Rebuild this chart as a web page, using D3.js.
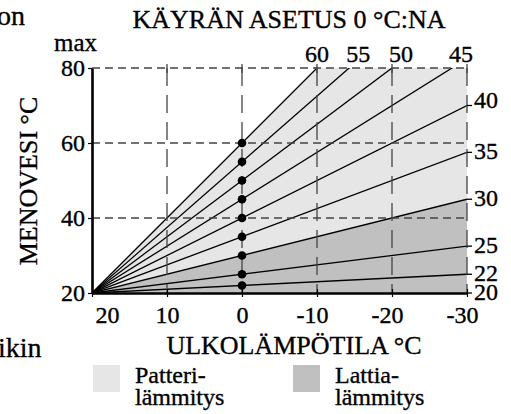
<!DOCTYPE html>
<html><head><meta charset="utf-8">
<script src="https://cdn.jsdelivr.net/npm/d3@7"></script>
<style>
html,body{margin:0;padding:0;background:#fff;}
svg{display:block;}
svg text{stroke:#000;stroke-width:0.35px;}
</style></head>
<body>
<svg id="c" width="511" height="414"></svg>
<script>
// curve settings: supply water temperature at 0 °C outdoor
const curveSettings = [22, 25, 30, 35, 40, 45, 50, 55, 60];
const xTickValues = [20, 10, 0, -10, -20, -30];
const yTickValues = [20, 40, 60, 80];
const topLabels = [60, 55, 50, 45];
const rightLabels = [40, 35, 30, 25, 22, 20];
const floorLimit = 30;   // boundary between floor heating and radiator heating
const radiatorMax = 60;

// pick first installed serif face, else Liberation Sans
const candidates = ["Liberation Serif", "Tinos", "Times New Roman", "Times", "Nimbus Roman", "Noto Serif", "DejaVu Serif", "FreeSerif"];
const cv = document.createElement("canvas").getContext("2d");
const probe = "KÄYRÄN ASETUS mmmWWiil 0123";
function w(font) { cv.font = "40px " + font; return cv.measureText(probe).width; }
const base1 = w("monospace"), base2 = w("sans-serif");
let found = null;
for (const c of candidates) {
  const a = w(`"${c}", monospace`), b = w(`"${c}", sans-serif`);
  if (Math.abs(a - base1) > 0.5 && Math.abs(b - base2) > 0.5) { found = c; break; }
}
const FONT = found ? `"${found}", serif` : `"Liberation Sans", Arial, sans-serif`;

const svg = d3.select("#c").style("font-family", FONT);
const x = d3.scaleLinear().domain([20, -30]).range([92, 467]);
const y = d3.scaleLinear().domain([20, 80]).range([293, 68]);
const [x0, x1] = x.domain();
const [y0, y1] = y.domain();
// straight line through (20,20) and (0,T)
const f = (T, t) => 20 + (T - 20) * (20 - t) / 20;

svg.append("defs").append("clipPath").attr("id", "plot")
  .append("rect").attr("x", x(x0)).attr("y", y(y1))
  .attr("width", x(x1) - x(x0)).attr("height", y(y0) - y(y1));

const plot = svg.append("g").attr("clip-path", "url(#plot)");
const ends = [x0, x1];
plot.append("path").datum(ends)
  .attr("fill", "#e6e6e6")
  .attr("d", d3.area().x(t => x(t)).y0(t => y(f(floorLimit, t))).y1(t => y(f(radiatorMax, t))));
plot.append("path").datum(ends)
  .attr("fill", "#c0c0c0")
  .attr("d", d3.area().x(t => x(t)).y0(y(y0)).y1(t => y(f(floorLimit, t))));

// grid
const grid = svg.append("g").attr("stroke", "#444").attr("stroke-width", 1.3).attr("fill", "none");
grid.selectAll("line.h").data(yTickValues.filter(v => v > y0)).join("line")
  .attr("x1", x(x0)).attr("x2", x(x1)).attr("y1", d => y(d)).attr("y2", d => y(d))
  .attr("stroke-dasharray", "8,5");
grid.selectAll("line.v").data(xTickValues.filter(v => v < x0)).join("line")
  .attr("x1", d => x(d)).attr("x2", d => x(d)).attr("y1", y(y1)).attr("y2", y(y0))
  .attr("stroke-dasharray", "18,9");
grid.selectAll("line.tt").data(xTickValues.filter(v => v < x0)).join("line")
  .attr("x1", d => x(d)).attr("x2", d => x(d)).attr("y1", y(y1) - 4).attr("y2", y(y1) + 5);

// curves
plot.selectAll("line.curve").data(curveSettings).join("line")
  .attr("x1", x(x0)).attr("y1", d => y(f(d, x0)))
  .attr("x2", x(x1)).attr("y2", d => y(f(d, x1)))
  .attr("stroke", "#000").attr("stroke-width", 1.3);

// right end ticks
svg.append("g").selectAll("line").data(rightLabels).join("line")
  .attr("x1", x(x1)).attr("x2", x(x1) + 5)
  .attr("y1", d => y(f(d, x1))).attr("y2", d => y(f(d, x1)))
  .attr("stroke", "#000").attr("stroke-width", 1.3);

// dots at 0 °C
svg.append("g").selectAll("circle").data(curveSettings).join("circle")
  .attr("cx", x(0)).attr("cy", d => y(d)).attr("r", 4.3).attr("fill", "#000");

// axes
const fs = "24px";
const xAxis = svg.append("g").attr("transform", `translate(0,${y(y0)})`)
  .call(d3.axisBottom(x).tickValues(xTickValues).tickSizeInner(4).tickSizeOuter(0).tickPadding(9)
    .tickFormat(d => d < 0 ? "-" + Math.abs(d) : d));
xAxis.attr("font-family", null).attr("font-size", fs);
xAxis.select(".domain").attr("stroke-width", 2.6).attr("stroke", "#000");
xAxis.selectAll(".tick line").attr("y1", -4).attr("stroke-width", 1.2);
xAxis.selectAll(".tick text").attr("fill", "#000")
  .attr("dx", d => d === x0 ? 15 : (d < 0 ? -5 : 0));

const yAxis = svg.append("g").attr("transform", `translate(${x(x0)},0)`)
  .call(d3.axisLeft(y).tickValues(yTickValues).tickSizeInner(4).tickSizeOuter(0).tickPadding(3));
yAxis.attr("font-family", null).attr("font-size", fs);
yAxis.select(".domain").attr("stroke-width", 2.6).attr("stroke", "#000");
yAxis.selectAll(".tick line").attr("stroke-width", 1.2);
yAxis.selectAll(".tick text").attr("fill", "#000");

// labels
const T = (xx, yy, s, size, anchor) => svg.append("text").attr("x", xx).attr("y", yy)
  .attr("font-size", size).attr("text-anchor", anchor || "start").attr("fill", "#000").text(s);

T(x(x0) - 38, y(y1) - 17, "max", "25px");
topLabels.forEach((v, i) => {
  const tx = x(20 - (y1 - 20) * 20 / (v - 20));
  T(i === 0 ? tx : tx - 3, y(y1) - 6, v, fs, i === 0 ? "middle" : "start");
});
rightLabels.forEach(v => {
  T(x(x1) + 7, y(f(v, x1)) + (v === 40 ? 2 : 7), v, fs);
});

T(289, 28, "KÄYRÄN ASETUS 0 °C:NA", "26px", "middle");
T(294, 354, "ULKOLÄMPÖTILA °C", "26px", "middle");
svg.append("text").attr("transform", "translate(37,181) rotate(-90)")
  .attr("text-anchor", "middle").attr("font-size", "26px").text("MENOVESI °C");

// neighbouring text fragments
T(-3, 25, "on", "28px");
T(-2, 357, "ikin", "28px");

// legend
const legend = [
  {fill: "#e6e6e6", l1: "Patteri-", l2: "lämmitys"},
  {fill: "#c0c0c0", l1: "Lattia-", l2: "lämmitys"}
];
const lg = svg.append("g").selectAll("g").data(legend).join("g")
  .attr("transform", (d, i) => `translate(${93 + i * 200},365)`);
lg.append("rect").attr("width", 27).attr("height", 27).attr("fill", d => d.fill);
lg.append("text").attr("x", 42).attr("y", 18).attr("font-size", "24px").text(d => d.l1);
lg.append("text").attr("x", 42).attr("y", 40).attr("font-size", "24px").text(d => d.l2);
</script>
</body></html>
